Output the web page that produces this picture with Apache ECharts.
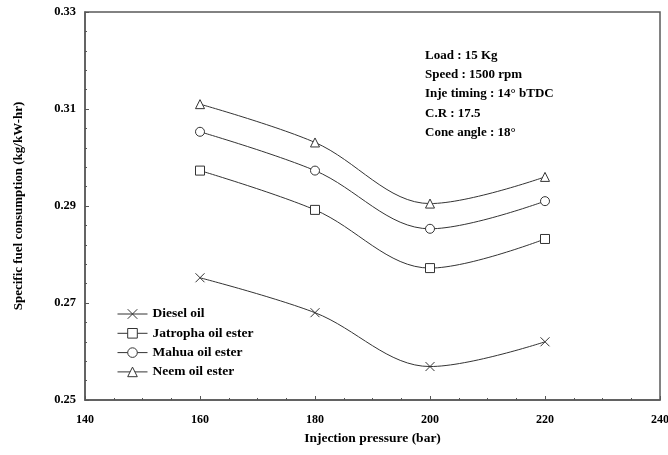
<!DOCTYPE html>
<html>
<head>
<meta charset="utf-8">
<script src="https://cdn.jsdelivr.net/npm/echarts@6/dist/echarts.min.js"></script>
<style>
  html, body { margin: 0; padding: 0; background: #fff; }
  #chart { width: 668px; height: 455px; }
</style>
</head>
<body>
<div id="chart"></div>
<script>
// injection pressure (bar)
var pressures = [160, 180, 200, 220];
// specific fuel consumption (kg/kW-hr)
var dieselOil = [0.2752, 0.2680, 0.2569, 0.2620];
var jatrophaEster = [0.2973, 0.2892, 0.2772, 0.2832];
var mahuaEster = [0.3053, 0.2973, 0.2853, 0.2910];
var neemEster = [0.3110, 0.3031, 0.2905, 0.2960];
var seriesNames = ['Diesel oil', 'Jatropha oil ester', 'Mahua oil ester', 'Neem oil ester'];
var conditions = ['Load : 15 Kg', 'Speed : 1500 rpm', 'Inje timing : 14\u00b0 bTDC', 'C.R : 17.5', 'Cone angle : 18\u00b0'];

var FONT = '"Liberation Serif", "DejaVu Serif", serif';
var crossPath = 'path://M0,0L10,10M10,0L0,10';

function pairs(ys) {
    return pressures.map(function (x, i) { return [x, ys[i]]; });
}

function makeSeries(name, ys, symbol) {
    return {
        name: name,
        type: 'line',
        data: pairs(ys),
        smooth: 0.35,
        symbol: symbol,
        symbolSize: 9,
        showAllSymbol: true,
        lineStyle: { color: '#333', width: 1 },
        itemStyle: { color: '#fff', borderColor: '#333', borderWidth: 1 }
    };
}

var myChart = echarts.init(document.getElementById('chart'));

var option = {
    animation: false,
    grid: {
        left: 85, right: 8, top: 12, bottom: 55,
        outerBoundsMode: 'none',
        show: true, borderColor: '#5a5a5a', borderWidth: 1.5
    },
    legend: {
        orient: 'vertical',
        left: 117,
        top: 307,
        padding: 0,
        itemWidth: 30,
        itemHeight: 12,
        itemGap: 5.3,
        data: seriesNames,
        lineStyle: { width: 1, color: '#333' },
        itemStyle: { borderWidth: 1 },
        textStyle: { fontFamily: FONT, fontWeight: 'bold', fontSize: 13.5, color: '#000' }
    },
    xAxis: {
        type: 'value',
        min: 140, max: 240, interval: 20,
        name: 'Injection pressure (bar)',
        nameLocation: 'middle',
        nameGap: 32,
        nameTextStyle: { fontFamily: FONT, fontWeight: 'bold', fontSize: 13.5, color: '#000' },
        axisLine: { lineStyle: { color: '#5a5a5a', width: 1.5 } },
        axisTick: { inside: true, length: 4, lineStyle: { color: '#555' } },
        minorTick: { show: true, splitNumber: 4, length: 2, lineStyle: { color: '#555' } },
        splitLine: { show: false },
        axisLabel: { fontFamily: FONT, fontWeight: 'bold', fontSize: 12, color: '#000', margin: 14 }
    },
    yAxis: {
        type: 'value',
        min: 0.25, max: 0.33, interval: 0.02,
        name: 'Specific fuel consumption (kg/kW-hr)',
        nameLocation: 'middle',
        nameGap: 60,
        nameTextStyle: { fontFamily: FONT, fontWeight: 'bold', fontSize: 13, color: '#000' },
        axisLine: { lineStyle: { color: '#5a5a5a', width: 1.5 } },
        axisTick: { inside: true, length: 4, lineStyle: { color: '#555' } },
        minorTick: { show: true, splitNumber: 5, length: 2, lineStyle: { color: '#555' } },
        splitLine: { show: false },
        axisLabel: {
            fontFamily: FONT, fontWeight: 'bold', fontSize: 12.5, color: '#000', margin: 9,
            formatter: function (v) { return v.toFixed(2); }
        }
    },
    graphic: conditions.map(function (t, i) {
        return {
            type: 'text',
            left: 425,
            top: 49 + i * 19.3,
            style: { text: t, font: 'bold 13px ' + FONT, fill: '#000' }
        };
    }),
    series: [
        makeSeries(seriesNames[0], dieselOil, crossPath),
        makeSeries(seriesNames[1], jatrophaEster, 'rect'),
        makeSeries(seriesNames[2], mahuaEster, 'circle'),
        makeSeries(seriesNames[3], neemEster, 'triangle')
    ]
};

myChart.setOption(option);
</script>
</body>
</html>
